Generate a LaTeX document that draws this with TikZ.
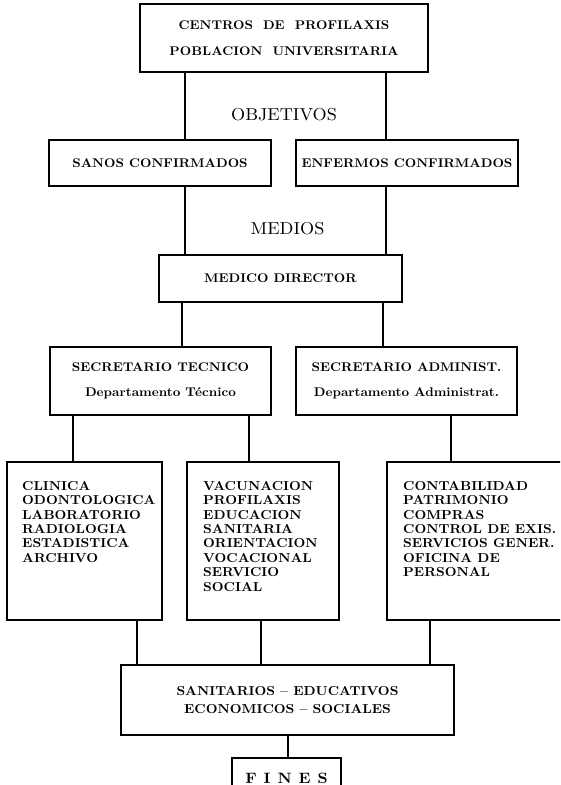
\documentclass[tikz,border=0pt]{standalone}
\usepackage{fontspec}
\setmainfont{lmroman10-regular.otf}[BoldFont=lmroman10-bold.otf,FakeStretch=1.05]
\newcommand\wsp{\hskip0.8em\relax}
\begin{document}
\begin{tikzpicture}[x=1pt,y=-1pt,
  box/.style={draw,line width=1.4pt,inner sep=0pt,align=center,
    font=\fontsize{12.6}{25}\bfseries\selectfont},
  listtext/.style={anchor=north west,inner sep=0pt,align=left,
    font=\fontsize{13}{14.4}\bfseries\selectfont},
  lbl/.style={inner sep=0pt,font=\fontsize{17.3}{20}\selectfont},
  wire/.style={line width=1.4pt}]
\useasboundingbox (0,0) rectangle (560,785);
\clip (0,0) rectangle (560,785);
% column coordinates
\coordinate (xa) at (185,0);
\coordinate (xb) at (386,0);
\coordinate (xc) at (182,0);
\coordinate (xd) at (383,0);
\coordinate (xe) at (73,0);
\coordinate (xf) at (249,0);
\coordinate (xg) at (451,0);
\coordinate (xh) at (137,0);
\coordinate (xi) at (261,0);
\coordinate (xj) at (430,0);
\coordinate (xk) at (288,0);
% boxes
\node[box,minimum width=288,minimum height=68,font=\fontsize{12.6}{26}\bfseries\selectfont] (top) at (284,38)
  {CENTROS\wsp DE\wsp PROFILAXIS\\POBLACION\wsp UNIVERSITARIA};
\node[box,minimum width=222,minimum height=46] (sanos) at (160,163) {SANOS CONFIRMADOS};
\node[box,minimum width=222,minimum height=46] (enf) at (407,163) {ENFERMOS CONFIRMADOS};
\node[box,minimum width=243,minimum height=47] (md) at (280.5,278.5) {MEDICO DIRECTOR};
\node[box,minimum width=221,minimum height=68] (st) at (160.5,381)
  {SECRETARIO TECNICO\\Departamento Técnico};
\node[box,minimum width=221,minimum height=68] (sa) at (406.5,381)
  {SECRETARIO ADMINIST.\\Departamento Administrat.};
\node[box,minimum width=155,minimum height=158] (clin) at (84.5,541) {};
\node[box,minimum width=152,minimum height=158] (vac) at (263,541) {};
\node[box,minimum width=190,minimum height=158] (cont) at (482,541) {};
\node[box,minimum width=333,minimum height=70,font=\fontsize{13}{18}\bfseries\selectfont] (san) at (287.5,700)
  {SANITARIOS -- EDUCATIVOS\\ECONOMICOS -- SOCIALES};
\node[box,minimum width=109,minimum height=40,font=\fontsize{15}{16}\bfseries\selectfont] (fines) at (286.5,778)
  {F\hspace{7pt}I\hspace{7pt}N\hspace{7pt}E\hspace{7pt}S};
% list texts
\node[listtext] (clint) at (22,481) {CLINICA\\ODONTOLOGICA\\LABORATORIO\\RADIOLOGIA\\ESTADISTICA\\ARCHIVO};
\node[listtext] (vact) at (203,481) {VACUNACION\\PROFILAXIS\\EDUCACION\\SANITARIA\\ORIENTACION\\VOCACIONAL\\SERVICIO\\SOCIAL};
\node[listtext] (contt) at (403,481) {CONTABILIDAD\\PATRIMONIO\\COMPRAS\\CONTROL DE EXIS.\\SERVICIOS GENER.\\OFICINA DE\\PERSONAL};
% labels
\node[lbl] (obj) at (284,115) {OBJETIVOS};
\node[lbl] (med) at (287.5,229) {MEDIOS};
% connectors
\draw[wire] (top.south -| xa) -- (sanos.north -| xa);
\draw[wire] (top.south -| xb) -- (enf.north -| xb);
\draw[wire] (sanos.south -| xa) -- (md.north -| xa);
\draw[wire] (enf.south -| xb) -- (md.north -| xb);
\draw[wire] (md.south -| xc) -- (st.north -| xc);
\draw[wire] (md.south -| xd) -- (sa.north -| xd);
\draw[wire] (st.south -| xe) -- (clin.north -| xe);
\draw[wire] (st.south -| xf) -- (vac.north -| xf);
\draw[wire] (sa.south -| xg) -- (cont.north -| xg);
\draw[wire] (clin.south -| xh) -- (san.north -| xh);
\draw[wire] (vac.south -| xi) -- (san.north -| xi);
\draw[wire] (cont.south -| xj) -- (san.north -| xj);
\draw[wire] (san.south -| xk) -- (fines.north -| xk);
\end{tikzpicture}
\end{document}
